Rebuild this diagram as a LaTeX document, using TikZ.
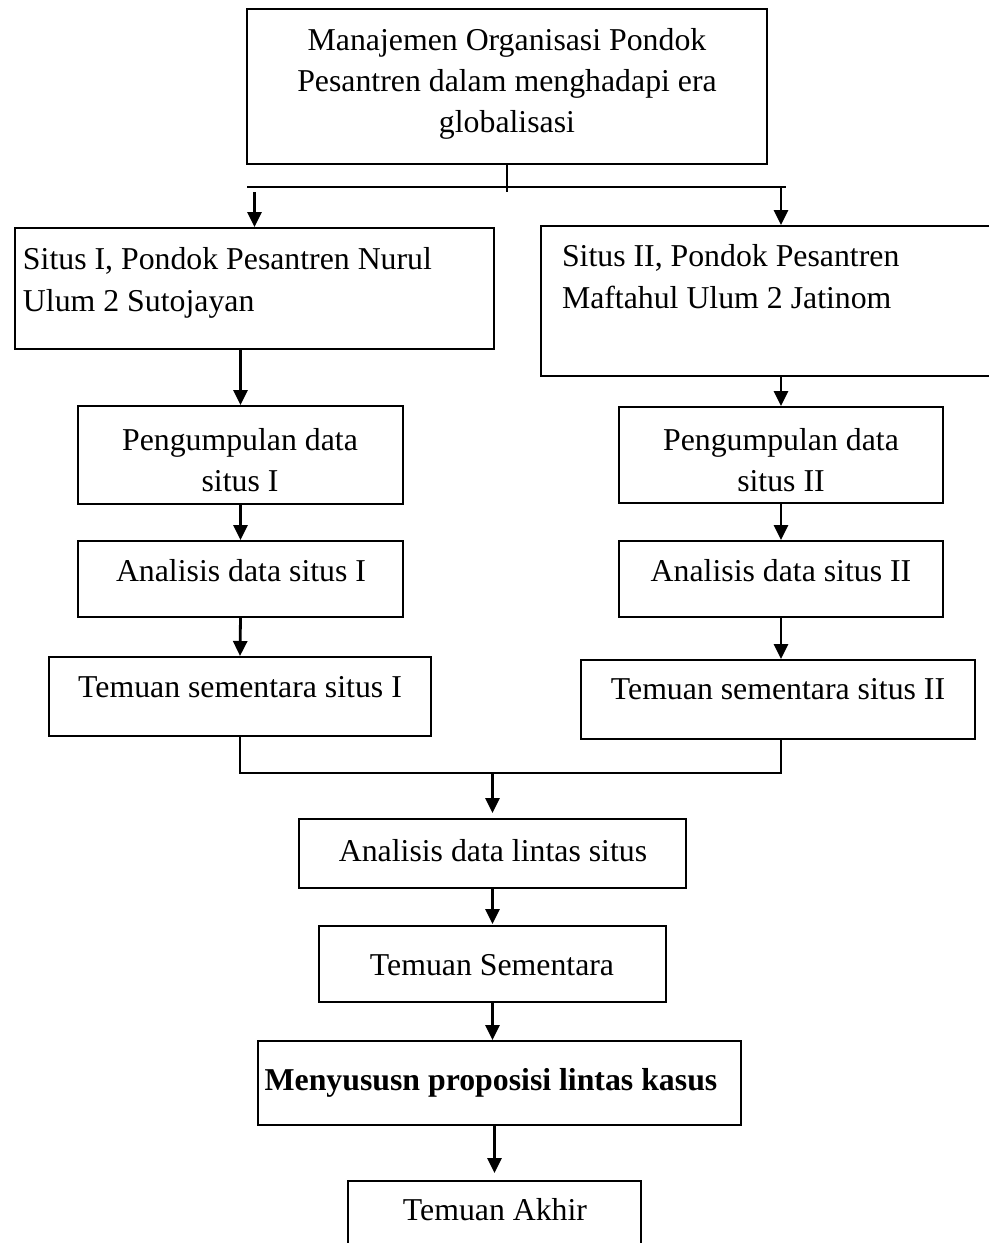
\documentclass[tikz,border=0pt]{standalone}
\usepackage{fontspec}
\setmainfont{Liberation Serif}
\usetikzlibrary{arrows.meta}
\begin{document}
\begin{tikzpicture}[x=1pt,y=-1pt,
  box/.style={draw,line width=2.4pt,inner sep=0pt,outer sep=0pt},
  frame/.style={inner sep=0pt,outer sep=0pt},
  lbl/.style={inner sep=0pt,outer sep=0pt,font=\fontsize{31.8pt}{38pt}\selectfont,anchor=base},
  lblL/.style={lbl,anchor=base west},
  link/.style={line width=2.4pt},
  arr/.style={line width=2.8pt,-{Triangle[length=15pt,width=14pt]}}]
\useasboundingbox (0,0) rectangle (989,1243);

% boxes
\node[box,minimum width=520pt,minimum height=155pt] (top) at (507,86.5) {};
\node[box,minimum width=479pt,minimum height=121pt] (s1) at (254.5,288.5) {};
\node[frame,minimum width=448pt,minimum height=150pt] (s2) at (765,301) {};
\draw[link] (s2.north east) -- (s2.north west) -- (s2.south west) -- (s2.south east);
\node[box,minimum width=325pt,minimum height=98pt] (p1) at (240.5,455) {};
\node[box,minimum width=324pt,minimum height=96pt] (p2) at (781,455) {};
\node[box,minimum width=325pt,minimum height=76pt] (a1) at (240.5,579) {};
\node[box,minimum width=324pt,minimum height=76pt] (a2) at (781,579) {};
\node[box,minimum width=382pt,minimum height=79pt] (t1) at (240,696.5) {};
\node[box,minimum width=394pt,minimum height=79pt] (t2) at (778,699.5) {};
\node[box,minimum width=387pt,minimum height=69pt] (l) at (492.5,853.5) {};
\node[box,minimum width=347pt,minimum height=76pt] (ts) at (492.5,964) {};
\node[box,minimum width=483pt,minimum height=84pt] (m) at (499.5,1083) {};
\node[frame,minimum width=293pt,minimum height=62pt] (ta) at (494.5,1212) {};
\draw[link] (ta.south west) -- (ta.north west) -- (ta.north east) -- (ta.south east);

% texts
\node[lbl] (topA) at (507,50) {Manajemen Organisasi Pondok};
\node[lbl] (topB) at (507,91) {Pesantren dalam menghadapi era};
\node[lbl] (topC) at (507,132) {globalisasi};
\node[lblL] (s1A) at (23,269) {Situs I, Pondok Pesantren Nurul};
\node[lblL] (s1B) at (23,311) {Ulum 2 Sutojayan};
\node[lblL] (s2A) at (562,266) {Situs II, Pondok Pesantren};
\node[lblL] (s2B) at (562,308) {Maftahul Ulum 2 Jatinom};
\node[lbl] (p1A) at (240,450) {Pengumpulan data};
\node[lbl] (p1B) at (240,491) {situs I};
\node[lbl] (p2A) at (781,450) {Pengumpulan data};
\node[lbl] (p2B) at (781,491) {situs II};
\node[lbl] (a1A) at (241,581) {Analisis data situs I};
\node[lbl] (a2A) at (781,581) {Analisis data situs II};
\node[lbl] (t1A) at (240,697) {Temuan sementara situs I};
\node[lbl] (t2A) at (778,699) {Temuan sementara situs II};
\node[lbl] (lA) at (493,861) {Analisis data lintas situs};
\node[lbl] (tsA) at (492,975) {Temuan Sementara};
\node[lbl,font=\fontsize{31.8pt}{38pt}\selectfont\bfseries] (mA) at (491,1090) {Menyususn proposisi lintas kasus};
\node[lbl] (taA) at (495,1220) {Temuan Akhir};

% top branching
\coordinate (jl) at (247,187);
\coordinate (jr) at (786,187);
\coordinate (jra) at (781,187);
\draw[link] (jl) -- (jr);
\draw[link] (top.south) -- ([yshift=-5pt]top.south |- jl);
\draw[arr,shorten >=1pt] ([yshift=-5pt]s1.north |- jl) -- (s1.north);
\draw[arr,shorten >=1pt] (jra) -- (jra |- s2.north);

% left column
\draw[arr,shorten >=1pt] (p1.north |- s1.south) -- (p1.north);
\draw[arr,shorten >=1pt] (p1.south) -- (a1.north);
\draw[arr,shorten >=1pt] (a1.south) -- (t1.north);

% right column
\draw[arr,shorten >=1pt] (p2.north |- s2.south) -- (p2.north);
\draw[arr,shorten >=1pt] (p2.south) -- (a2.north);
\draw[arr,shorten >=1pt] (a2.south) -- (a2.south |- t2.north);

% merge
\coordinate (mb) at (491,773);
\draw[link] (t1.south) -- (t1.south |- mb) -- (a2.south |- mb) -- (a2.south |- t2.south);
\draw[arr,shorten >=6pt] (l.north |- mb) -- (l.north);
\draw[arr,shorten >=2pt] (l.south) -- (ts.north);
\draw[arr,shorten >=1pt] (ts.south) -- (ts.south |- m.north);
\draw[arr,shorten >=8pt] (ta.north |- m.south) -- (ta.north);
\end{tikzpicture}
\end{document}
